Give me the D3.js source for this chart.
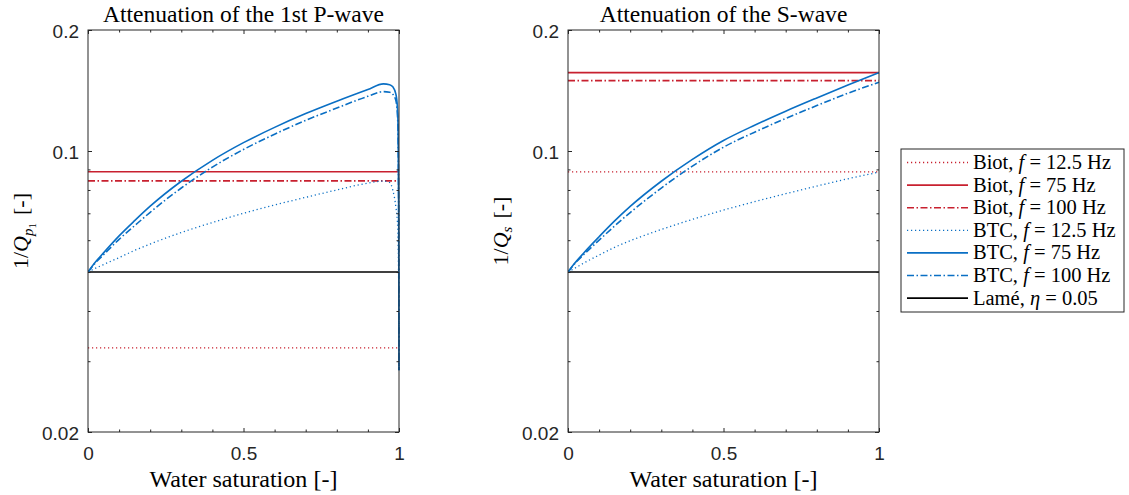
<!DOCTYPE html>
<html>
<head>
<meta charset="utf-8">
<script src="https://cdn.jsdelivr.net/npm/d3@7"></script>
<style>
body { margin: 0; background: #fff; }
svg { display: block; }
</style>
</head>
<body>
<script>
// ---- data ----
// water saturation grid for the P-wave curves (dense near 1 where they drop)
const satP = [0, 0.02, 0.05, 0.1, 0.15, 0.2, 0.3, 0.4, 0.5, 0.6, 0.7, 0.8, 0.9, 0.95, 0.97, 0.98, 0.99, 0.995, 0.997, 0.999, 1];
const btcP125 = [0.05, 0.0509, 0.0522, 0.0543, 0.0566, 0.0587, 0.0627, 0.0664, 0.0700, 0.0734, 0.0767, 0.0800, 0.0832, 0.0842, 0.0835, 0.0800, 0.0725, 0.0665, 0.060, 0.045, 0.0285];
const btcP75 = [0.05, 0.0525, 0.0558, 0.0615, 0.0671, 0.0729, 0.0841, 0.0948, 0.1049, 0.1145, 0.1239, 0.1330, 0.1422, 0.1469, 0.1462, 0.1445, 0.1385, 0.128, 0.115, 0.070, 0.0285];
const btcP100 = [0.05, 0.0523, 0.0552, 0.0603, 0.0652, 0.0704, 0.0809, 0.0912, 0.1009, 0.1101, 0.1192, 0.1279, 0.1368, 0.1405, 0.1400, 0.1385, 0.1335, 0.1230, 0.110, 0.066, 0.0285];

const satS = [0, 0.02, 0.05, 0.1, 0.15, 0.2, 0.3, 0.4, 0.5, 0.6, 0.7, 0.8, 0.9, 1];
const btcS125 = [0.05, 0.0510, 0.0526, 0.0551, 0.0576, 0.0598, 0.0638, 0.0676, 0.0713, 0.0748, 0.0783, 0.0818, 0.0853, 0.0886];
const btcS75 = [0.05, 0.0524, 0.0557, 0.0612, 0.0670, 0.0728, 0.0841, 0.0953, 0.1062, 0.1159, 0.1256, 0.1355, 0.1459, 0.1566];
const btcS100 = [0.05, 0.0523, 0.0552, 0.0600, 0.0651, 0.0703, 0.0809, 0.0917, 0.1022, 0.1114, 0.1205, 0.1297, 0.1392, 0.1483];

// Biot values are constant in saturation: [12.5 Hz, 75 Hz, 100 Hz]
const biotP = [0.0324, 0.0888, 0.0843];
const biotS = [0.0887, 0.1566, 0.1496];
const lame = 0.05;

const xTicksMajor = [0, 0.5, 1];
const xTickLabels = ["0", "0.5", "1"];
const xTicksMinor = [0.1, 0.2, 0.3, 0.4, 0.6, 0.7, 0.8, 0.9];
const yTicksMajor = [0.02, 0.1, 0.2];
const yTickLabels = ["0.02", "0.1", "0.2"];
const yTicksMinor = [0.03, 0.04, 0.05, 0.06, 0.07, 0.08, 0.09];

const titles = ["Attenuation of the 1st P-wave", "Attenuation of the S-wave"];
const freqs = ["12.5", "75", "100"];

// ---- styles ----
const red = "#c8202f";
const blue = "#0a6fc4";
const dashFor = {dot: "1.2,2.8", solid: null, dashdot: "7,2.5,1.5,2.5"};
const styles = ["dot", "solid", "dashdot"];
const serif = '"Liberation Serif", "DejaVu Serif", "Noto Serif", "Times New Roman", serif';
const sans = '"Liberation Sans", Arial, sans-serif';

const W = 1129, H = 495;
const plotTop = 30, plotBottom = 432;

const svg = d3.select("body").append("svg")
    .attr("width", W)
    .attr("height", H);

// scale a text's font so its width comes close to the reference
function fitWidth(sel, size, target, maxK) {
    const w = sel.node().getComputedTextLength();
    if (w > 0) {
        const k = Math.max(0.85, Math.min(maxK || 1.15, target / w));
        sel.style("font-size", (size * k) + "px");
    }
}

function drawPanel(left, right, title, sat, btc, biot, ylabel) {
    const x = d3.scaleLinear().domain([0, 1]).range([left, right]);
    const y = d3.scaleLog().domain([0.02, 0.2]).range([plotBottom, plotTop]);
    const g = svg.append("g");

    const clipId = "clip" + left;
    svg.append("clipPath").attr("id", clipId)
        .append("rect")
        .attr("x", left).attr("y", plotTop - 2)
        .attr("width", right - left + 2).attr("height", plotBottom - plotTop + 4);

    const plot = g.append("g").attr("clip-path", "url(#" + clipId + ")");

    // Lamé reference line
    plot.append("path")
        .attr("d", d3.line()([[x(0), y(lame)], [x(1), y(lame)]]))
        .attr("stroke", "#000").attr("stroke-width", 1.6).attr("fill", "none");

    // Biot (constant)
    biot.forEach(function (v, i) {
        plot.append("path")
            .attr("d", d3.line()([[x(0), y(v)], [x(1), y(v)]]))
            .attr("stroke", red).attr("stroke-width", styles[i] === "dot" ? 1.3 : 1.7)
            .attr("stroke-dasharray", dashFor[styles[i]])
            .attr("fill", "none");
    });

    // BTC curves
    const line = d3.line()
        .curve(d3.curveMonotoneX)
        .x(function (d) { return x(d[0]); })
        .y(function (d) { return y(d[1]); });
    btc.forEach(function (vals, i) {
        plot.append("path")
            .datum(sat.map(function (s, j) { return [s, vals[j]]; }))
            .attr("d", line)
            .attr("stroke", blue).attr("stroke-width", styles[i] === "dot" ? 1.3 : 1.6)
            .attr("stroke-dasharray", dashFor[styles[i]])
            .attr("fill", "none");
    });

    // axes box
    g.append("rect")
        .attr("x", left).attr("y", plotTop)
        .attr("width", right - left).attr("height", plotBottom - plotTop)
        .attr("fill", "none").attr("stroke", "#262626").attr("stroke-width", 1);

    // ticks, drawn inward on all four sides
    function axis(maker, scale, ticks, size, labels, transform) {
        const a = maker(scale).tickValues(ticks).tickSize(-size).tickPadding(size + 6);
        a.tickFormat(labels ? function (d, i) { return labels[i]; } : "");
        const ag = g.append("g").attr("transform", transform).call(a);
        ag.select(".domain").remove();
        ag.selectAll("line").attr("stroke", "#262626");
        ag.selectAll("text")
            .attr("fill", "#262626")
            .style("font-family", sans)
            .style("font-size", "19px");
        return ag;
    }
    axis(d3.axisBottom, x, xTicksMajor, 4, xTickLabels, "translate(0," + plotBottom + ")")
        .selectAll("text").attr("dy", "0.95em");
    axis(d3.axisBottom, x, xTicksMinor, 2.5, null, "translate(0," + plotBottom + ")");
    axis(d3.axisTop, x, xTicksMajor, 4, null, "translate(0," + plotTop + ")");
    axis(d3.axisTop, x, xTicksMinor, 2.5, null, "translate(0," + plotTop + ")");
    axis(d3.axisLeft, y, yTicksMajor, 4, yTickLabels, "translate(" + left + ",0)")
        .selectAll("text").attr("dy", "0.42em").attr("x", -9);
    axis(d3.axisLeft, y, yTicksMinor, 2.5, null, "translate(" + left + ",0)");
    axis(d3.axisRight, y, yTicksMajor, 4, null, "translate(" + right + ",0)");
    axis(d3.axisRight, y, yTicksMinor, 2.5, null, "translate(" + right + ",0)");

    // title
    const tt = g.append("text")
        .attr("x", (left + right) / 2).attr("y", 22)
        .attr("text-anchor", "middle")
        .style("font-family", serif).style("font-size", "22px")
        .attr("fill", "#000")
        .text(title);
    fitWidth(tt, 22, title.length * 10.07, 1.07);

    // x label
    const xl = g.append("text")
        .attr("x", (left + right) / 2).attr("y", 487)
        .attr("text-anchor", "middle")
        .style("font-family", serif).style("font-size", "22px")
        .attr("fill", "#000")
        .text("Water saturation [-]");
    fitWidth(xl, 22, 188, 1.1);

    // y label
    const yl = g.append("text")
        .attr("transform", "translate(" + (left - 60) + "," + ((plotTop + plotBottom) / 2) + ") rotate(-90)")
        .attr("text-anchor", "middle")
        .style("font-family", serif).style("font-size", "22px")
        .attr("fill", "#000");
    yl.append("tspan").text("1/");
    yl.append("tspan").style("font-style", "italic").text("Q");
    ylabel(yl);
}

drawPanel(88, 399, titles[0], satP, [btcP125, btcP75, btcP100], biotP, function (t) {
    t.append("tspan").attr("dy", 5).style("font-style", "italic").style("font-size", "15px").text("p");
    t.append("tspan").attr("dy", 3).style("font-size", "11px").text("1");
    t.append("tspan").attr("dy", -8).attr("dx", 8).text("[-]");
});

drawPanel(568, 879, titles[1], satS, [btcS125, btcS75, btcS100], biotS, function (t) {
    t.append("tspan").attr("dy", 4).style("font-style", "italic").style("font-size", "15px").text("s");
    t.append("tspan").attr("dy", -4).attr("dx", 8).text("[-]");
});

// ---- legend ----
const legendItems = [];
["Biot", "BTC"].forEach(function (model) {
    freqs.forEach(function (f, i) {
        legendItems.push({model: model, freq: f, color: model === "Biot" ? red : blue, style: styles[i]});
    });
});
legendItems.push({model: "Lamé", color: "#000", style: "solid"});

const lg = svg.append("g");
lg.append("rect")
    .attr("x", 901).attr("y", 149).attr("width", 223).attr("height", 163)
    .attr("fill", "#fff").attr("stroke", "#262626").attr("stroke-width", 1);

let legendSize = 19;
legendItems.forEach(function (d, i) {
    const yy = 162.5 + i * 22.6;
    lg.append("line")
        .attr("x1", 907).attr("x2", 968).attr("y1", yy).attr("y2", yy)
        .attr("stroke", d.color).attr("stroke-width", d.style === "dot" ? 1.3 : 1.6)
        .attr("stroke-dasharray", dashFor[d.style]);
    const t = lg.append("text")
        .attr("class", "legend-text")
        .attr("x", 973).attr("y", yy + 6.5)
        .style("font-family", serif).style("font-size", legendSize + "px")
        .attr("fill", "#000");
    t.append("tspan").text(d.model + ", ");
    if (d.freq) {
        t.append("tspan").style("font-style", "italic").text("f");
        t.append("tspan").text(" = " + d.freq + " Hz");
    } else {
        t.append("tspan").style("font-style", "italic").text("η");
        t.append("tspan").text(" = 0.05");
    }
});
// match the width of the first legend entry ("Biot, f = 12.5 Hz" is ~138 px)
const firstW = lg.select(".legend-text").node().getComputedTextLength();
if (firstW > 0) {
    const k = Math.max(0.85, Math.min(1.15, 138 / firstW));
    lg.selectAll(".legend-text").style("font-size", (legendSize * k) + "px");
}
</script>
</body>
</html>
